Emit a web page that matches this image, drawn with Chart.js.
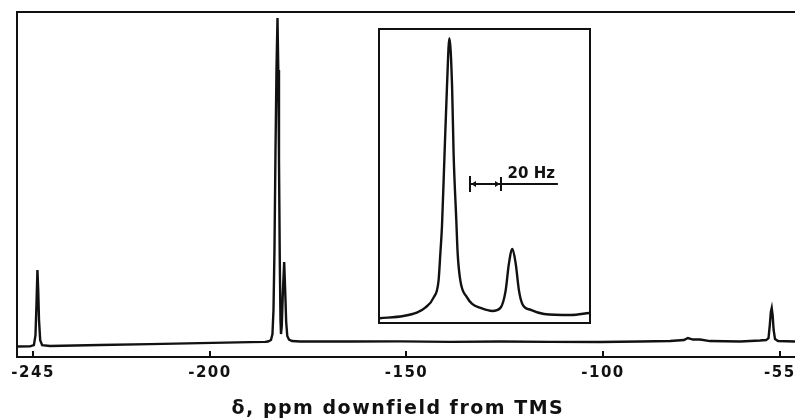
<!DOCTYPE html>
<html><head><meta charset="utf-8">
<script src="https://cdn.jsdelivr.net/npm/chart.js@4.4.1/dist/chart.umd.min.js"></script>
<style>
html,body{margin:0;padding:0;background:#fff;}
#wrap{position:relative;width:795px;height:419px;overflow:hidden;}
#main{position:absolute;left:0;top:0;}
#inset{position:absolute;left:378px;top:28px;background:#fff;}
</style></head><body>
<div id="wrap"><canvas id="main" width="795" height="419"></canvas><canvas id="inset" width="213" height="296"></canvas></div>
<script>
// ---- data ----
const tickValues = [-245, -200, -150, -100, -55];
const tickLabels = ['-245', '-200', '-150', '-100', '-55'];
const xTitle = 'δ, ppm downfield from TMS';

const shiftPpm = [
  -249.1, -245.8, -244.8, -244.4, -244.15, -243.9, -243.7, -243.5, -243.2, -242.7,
  -240.7, -228.0, -215.3, -202.5, -189.8, -186.0,
  -185.24, -184.48, -184.10, -183.84, -183.59, -183.33, -183.08, -182.82, -182.62, -182.44,
  -182.24, -182.06, -181.93, -181.73, -181.48, -181.12, -180.87, -180.61, -180.33, -179.90,
  -179.13, -177.10,
  -164.4, -151.65, -138.9, -126.2, -113.5, -100.8, -90.6, -82.95, -79.4, -78.4,
  -77.1, -75.3, -72.8, -65.1, -60.05, -58.5,
  -57.89, -57.56, -57.30, -57.07, -56.84, -56.59, -56.23, -55.47, -51.15
];
const intensity = [
  -0.15, -0.1, 0.3, 3.35, 12.5, 23.2, 17.1, 7.9, 1.8, 0.3,
  0.0, 0.3, 0.6, 0.9, 1.2, 1.28,
  1.37, 1.83, 3.66, 10.98, 29.27, 59.76, 84.15, 100, 84.15, 56.7,
  26.2, 7.93, 3.66, 6.1, 15.55, 25.6, 17.07, 7.32, 3.05, 1.98,
  1.52, 1.37,
  1.37, 1.43, 1.28, 1.37, 1.28, 1.22, 1.37, 1.52, 1.83, 2.44,
  1.98, 1.98, 1.52, 1.37, 1.68, 1.83,
  2.44, 6.4, 10.4, 11.6, 9.45, 4.9, 2.13, 1.52, 1.37
];

const insetHz = [
  0.67, 16.2, 25.1, 30.7, 36.2, 39.5, 40.7, 41.8, 43.5, 45.1,
  46.7, 48.5, 49.5, 51.3, 52.2, 54.0, 58.5, 61.8, 67.3, 75.1,
  80.7, 84.0, 86.2, 88.5, 90.7, 92.9, 95.1, 100.7, 109.5, 127.3, 139.5
];
const insetIntensity = [
  -0.47, 0.36, 1.55, 3.35, 6.94, 12.95, 22.7, 32.7, 58.6, 82.5,
  99.9, 82.5, 58.6, 34.5, 22.7, 12.95, 6.94, 4.68, 3.24, 2.16,
  3.35, 9.35, 19.1, 24.35, 19.1, 9.35, 4.68, 2.52, 1.08, 0.72, 1.44
];
const scaleBarHz = [60.7, 80.7];
const scaleBarEnd = 118.7;
const scaleBarLevel = 47.5;
const scaleBarLabel = '20 Hz';
const scaleBarLabelHz = 85.3;

// ---- helpers ----
const INK = '#111';
function frameAxis(position, min, max) {
  return {
    type: 'linear', position, min, max,
    ticks: { display: false },
    grid: { display: true, drawOnChartArea: false, drawTicks: false },
    border: { display: true, color: INK, width: 2 }
  };
}

const innerTicks = {
  id: 'innerTicks',
  afterDatasetsDraw(chart) {
    const { ctx, chartArea, scales: { x } } = chart;
    ctx.save();
    ctx.strokeStyle = INK; ctx.lineWidth = 2;
    x.ticks.forEach(t => {
      const px = Math.round(x.getPixelForValue(t.value));
      ctx.beginPath();
      ctx.moveTo(px, chartArea.bottom);
      ctx.lineTo(px, chartArea.bottom - 6);
      ctx.stroke();
    });
    ctx.restore();
  }
};
const spacing = {
  id: 'spacing',
  beforeDraw(chart) { chart.ctx.letterSpacing = '1.5px'; }
};

new Chart(document.getElementById('main'), {
  type: 'scatter',
  data: {
    datasets: [{
      data: shiftPpm.map((x, i) => ({ x, y: intensity[i] })),
      showLine: true, borderColor: INK, borderWidth: 2.4, pointRadius: 0, tension: 0, fill: false
    }]
  },
  options: {
    responsive: false, animation: false, events: [],
    layout: { padding: { left: 17, right: 0, top: 12, bottom: 0 } },
    plugins: { legend: { display: false }, tooltip: { enabled: false } },
    scales: {
      x: {
        type: 'linear', position: 'bottom', min: -249.1, max: -51.15,
        afterBuildTicks: s => { s.ticks = tickValues.map(v => ({ value: v })); },
        afterFit: s => { s.paddingLeft = 0; s.paddingRight = 0; },
        grid: { display: true, drawOnChartArea: false, drawTicks: false },
        border: { display: true, color: INK, width: 2 },
        ticks: {
          color: INK, padding: 7, autoSkip: false, maxRotation: 0, minRotation: 0,
          font: { family: 'DejaVu Sans', size: 15, weight: 'bold', lineHeight: 1.2 },
          callback: v => { const i = tickValues.indexOf(v); return i >= 0 ? tickLabels[i] : ''; }
        },
        title: {
          display: true, text: xTitle + '  ', color: INK,
          font: { family: 'DejaVu Sans', size: 19, weight: 'bold', lineHeight: 1.05 },
          padding: { top: 10, bottom: 0 }
        }
      },
      x2: frameAxis('top', -249.1, -51.15),
      y: frameAxis('left', -3.35, 101.8)
    }
  },
  plugins: [spacing, innerTicks]
});

const scaleBar = {
  id: 'scaleBar',
  afterDatasetsDraw(chart) {
    const { ctx, scales: { x, y } } = chart;
    const x0 = Math.round(x.getPixelForValue(scaleBarHz[0]));
    const x1 = Math.round(x.getPixelForValue(scaleBarHz[1]));
    const xe = x.getPixelForValue(scaleBarEnd);
    const py = Math.round(y.getPixelForValue(scaleBarLevel));
    ctx.save();
    ctx.strokeStyle = INK; ctx.fillStyle = INK; ctx.lineWidth = 2;
    ctx.beginPath();
    ctx.moveTo(x0, py); ctx.lineTo(xe, py);
    ctx.moveTo(x0, py - 8); ctx.lineTo(x0, py + 8);
    ctx.moveTo(x1, py - 7); ctx.lineTo(x1, py + 7);
    ctx.stroke();
    ctx.beginPath();
    ctx.moveTo(x0 + 1, py); ctx.lineTo(x0 + 6, py - 3); ctx.lineTo(x0 + 6, py + 3); ctx.closePath();
    ctx.moveTo(x1 - 1, py); ctx.lineTo(x1 - 6, py - 3); ctx.lineTo(x1 - 6, py + 3); ctx.closePath();
    ctx.fill();
    ctx.font = 'bold 15px "DejaVu Sans"';
    ctx.textAlign = 'left'; ctx.textBaseline = 'alphabetic';
    ctx.fillText(scaleBarLabel, x.getPixelForValue(scaleBarLabelHz), py - 6);
    ctx.restore();
  }
};

new Chart(document.getElementById('inset'), {
  type: 'scatter',
  data: {
    datasets: [{
      data: insetHz.map((x, i) => ({ x, y: insetIntensity[i] })),
      showLine: true, borderColor: INK, borderWidth: 2.4, pointRadius: 0,
      cubicInterpolationMode: 'monotone', fill: false
    }]
  },
  options: {
    responsive: false, animation: false, events: [],
    layout: { padding: 1 },
    plugins: { legend: { display: false }, tooltip: { enabled: false } },
    scales: {
      x: frameAxis('bottom', 0, 140),
      x2: frameAxis('top', 0, 140),
      y: frameAxis('left', -2.16, 103.2),
      y2: frameAxis('right', -2.16, 103.2)
    }
  },
  plugins: [scaleBar]
});
</script>
</body></html>
